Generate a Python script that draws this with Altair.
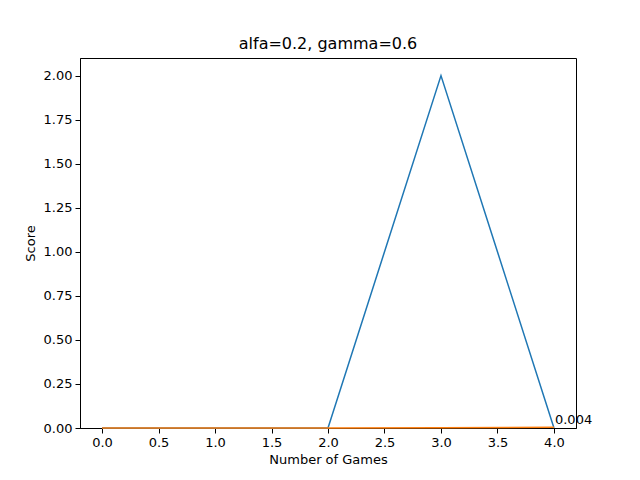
import altair as alt
import pandas as pd

games = [0, 1, 2, 3, 4]
score = [0, 0, 0, 2, 0]
avg = [0, 0, 0, 0.002, 0.004]

df = pd.DataFrame({"games": games, "score": score, "avg": avg})

x = alt.X("games:Q", title="Number of Games",
          scale=alt.Scale(domain=[-0.195, 4.195], nice=False, zero=False),
          axis=alt.Axis(values=[0, 0.5, 1, 1.5, 2, 2.5, 3, 3.5, 4], format=".1f", grid=False,
                        tickColor="black", domainColor="black", labelColor="black", tickSize=5,
                        labelFontSize=13, titleFontSize=13, titleFontWeight="normal", labelFlush=False,
                        labelPadding=3, titlePadding=4))
yscale = alt.Scale(domain=[0, 2.1], nice=False)
yaxis = alt.Axis(values=[0, 0.25, 0.5, 0.75, 1, 1.25, 1.5, 1.75, 2], format=".2f", grid=False,
                 tickColor="black", domainColor="black", labelColor="black", tickSize=5,
                 labelFontSize=13, titleFontSize=13, titleFontWeight="normal", labelPadding=3, titlePadding=6)

line1 = alt.Chart(df).mark_line(color="#1f77b4", strokeWidth=1.5).encode(
    x=x, y=alt.Y("score:Q", title="Score", scale=yscale, axis=yaxis))
line2 = alt.Chart(df).mark_line(color="#ff7f0e", strokeWidth=1.5).encode(
    x=x, y=alt.Y("avg:Q", scale=yscale))
label = alt.Chart(df[df.games == 4]).mark_text(align="left", dx=1, dy=-7, fontSize=13, color="black").encode(
    x=x, y=alt.Y("avg:Q", scale=yscale), text=alt.Text("avg:Q", format=".3f"))

chart = alt.layer(line1, line2, label).properties(
    width=496, height=370,
    title=alt.TitleParams("alfa=0.2, gamma=0.6", fontSize=16, fontWeight="normal", offset=6),
    autosize=alt.AutoSizeParams(type="none"),
    padding={"left": 72, "top": 50, "right": 56, "bottom": 44},
).configure(font="DejaVu Sans").configure_view(stroke="black", strokeWidth=1)

chart.save("out.html", embed_options={"renderer": "svg", "actions": False})
